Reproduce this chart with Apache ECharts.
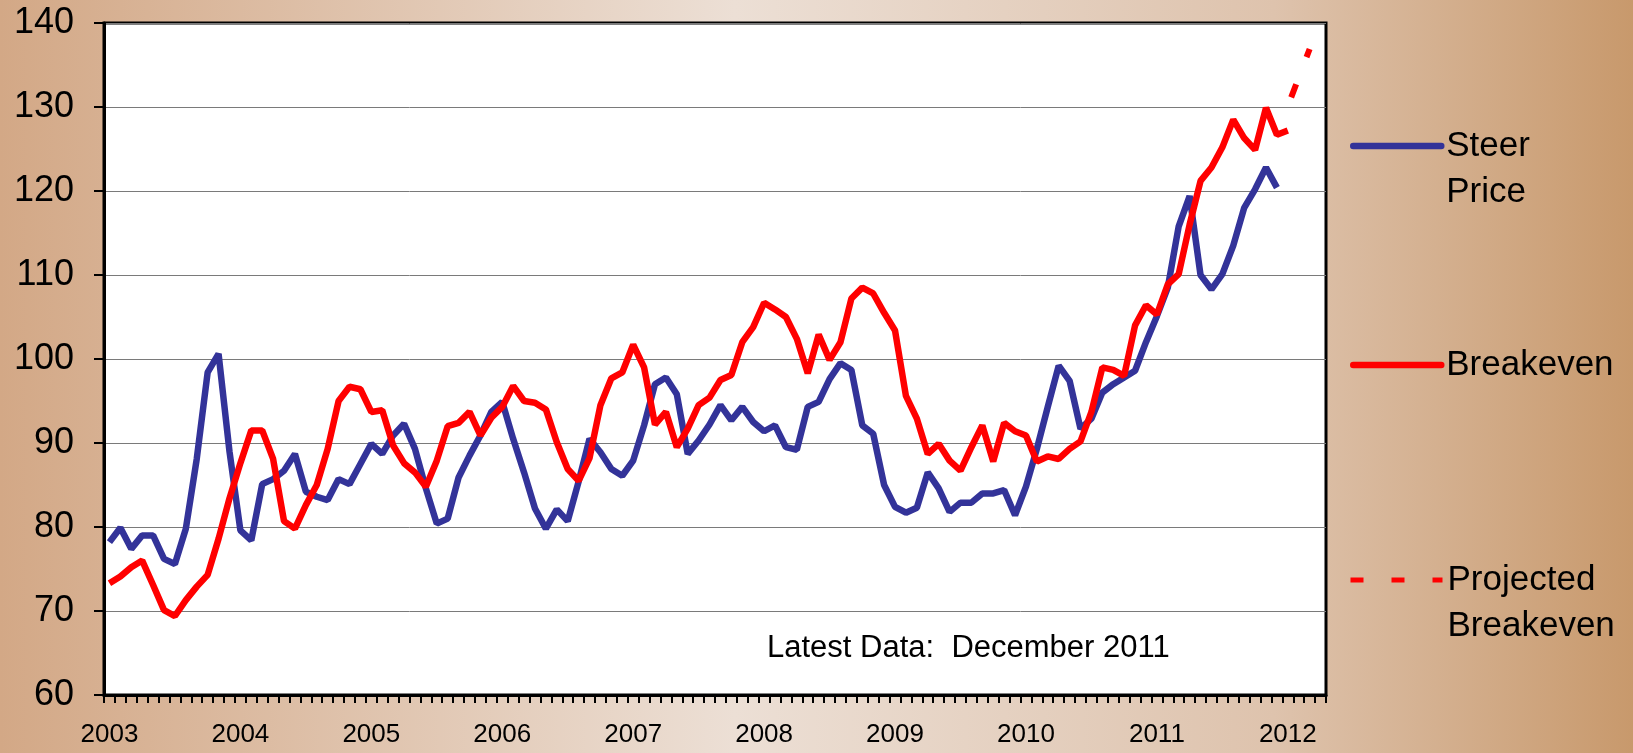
<!DOCTYPE html>
<html>
<head>
<meta charset="utf-8">
<title>Steer Price and Breakeven</title>
<script src="https://cdn.jsdelivr.net/npm/echarts@6/dist/echarts.min.js"></script>
<style>
  html, body { margin: 0; padding: 0; }
  #chart { width: 1633px; height: 753px; }
</style>
</head>
<body>
<div id="chart"></div>
<script>
// axis: monthly categories, Jan 2003 .. Apr 2012, labelled once a year
var years = [2003, 2004, 2005, 2006, 2007, 2008, 2009, 2010, 2011, 2012];
var monthCount = 112;
var yTicks = [60, 70, 80, 90, 100, 110, 120, 130, 140];

// monthly values from Jan 2003
var steerPrice = [
  78.2, 79.9, 77.4, 79.0, 79.0, 76.2, 75.6, 79.8, 88.1, 98.4, 100.6, 89.0,
  79.6, 78.4, 85.1, 85.7, 86.7, 88.7, 84.2, 83.6, 83.2, 85.7, 85.1, 87.5,
  89.9, 88.7, 90.9, 92.3, 89.3, 84.6, 80.4, 81.0, 85.9, 88.5, 90.9, 93.7,
  94.9, 90.5, 86.5, 82.2, 79.8, 82.1, 80.7, 85.4, 90.5, 88.9, 86.9, 86.1,
  87.9, 92.1, 97.0, 97.8, 95.8, 88.7, 90.3, 92.2, 94.5, 92.7, 94.3, 92.5,
  91.4, 92.1, 89.5, 89.2, 94.3, 94.9, 97.6, 99.5, 98.7, 92.1, 91.1, 85.0,
  82.4, 81.7, 82.3, 86.5, 84.6, 81.8, 82.9, 82.9, 84.0, 84.0, 84.4, 81.4,
  84.8, 89.3, 94.3, 99.2, 97.4, 91.7, 92.9, 96.0, 97.0, 97.8, 98.6, 102.0,
  105.1, 108.5, 115.8, 119.4, 110.0, 108.3, 110.1, 113.5, 118.0, 120.2, 122.8, 120.4
];
var breakeven = [
  73.3, 74.1, 75.2, 76.0, 73.1, 70.1, 69.4, 71.3, 72.9, 74.3, 78.6, 83.4,
  87.6, 91.5, 91.5, 88.1, 80.7, 79.8, 82.6, 85.0, 89.3, 95.0, 96.7, 96.4,
  93.7, 93.9, 89.7, 87.6, 86.5, 84.8, 87.9, 92.0, 92.4, 93.7, 90.9, 93.0,
  94.3, 96.8, 95.0, 94.8, 94.0, 90.1, 86.9, 85.5, 88.2, 94.5, 97.7, 98.4,
  101.7, 99.0, 92.2, 93.7, 89.5, 91.7, 94.5, 95.4, 97.5, 98.1, 102.0, 103.8,
  106.7, 105.9, 105.0, 102.4, 98.3, 102.9, 99.9, 102.0, 107.2, 108.5, 107.8, 105.5,
  103.4, 95.6, 92.9, 88.7, 89.9, 87.9, 86.7, 89.5, 92.1, 87.8, 92.4, 91.4,
  90.9, 87.8, 88.4, 88.1, 89.3, 90.2, 93.7, 99.0, 98.7, 98.0, 104.0, 106.4,
  105.3, 108.9, 110.1, 116.0, 121.2, 122.8, 125.2, 128.5, 126.3, 124.9, 129.9, 126.7,
  127.2
];
// projection starts at Dec 2011 (month index 107)
var projectedStart = 107;
var projectedValues = [126.7, 130.1, 133.5, 136.9];

var latestNote = "Latest Data:  December 2011";
var fontName = "'Liberation Sans', Arial, sans-serif";

function buildCategories(){
    var out = [];
    for (var i = 0; i < years.length; i++) {
        for (var m = 1; m <= 12; m++) {
            if (out.length < monthCount) {
                out.push(years[i] + "-" + (m < 10 ? "0" + m : m));
            }
        }
    }
    return out;
}

function buildProjected(){
    var out = [];
    for (var i = 0; i < projectedStart; i++) out.push(null);
    for (var j = 0; j < projectedValues.length; j++) out.push(projectedValues[j]);
    return out;
}

var categories = buildCategories();

var chart = echarts.init(document.getElementById("chart"));

var legendText = {
    color: "#000",
    fontSize: 35,
    fontFamily: fontName,
    lineHeight: 46
};
// legend hides the little symbol ECharts puts on line icons
var noSymbol = {color: "rgba(0,0,0,0)", borderWidth: 0, opacity: 0};

var option = {
    animation: false,
    backgroundColor: new echarts.graphic.LinearGradient(0, 0, 1, 0, [
        {offset: 0, color: "#d3a886"},
        {offset: 0.45, color: "#ecdfd5"},
        {offset: 0.78, color: "#dec3ad"},
        {offset: 1, color: "#c8996c"}
    ]),
    title: {
        text: latestNote,
        left: 767,
        top: 633,
        padding: 0,
        textStyle: {fontSize: 31, fontWeight: "normal", color: "#000", fontFamily: fontName}
    },
    grid: {
        left: 104, right: 307, top: 23, bottom: 58,
        show: true,
        backgroundColor: "#fff",
        borderColor: "#000",
        borderWidth: 3
    },
    legend: [
        {
            data: ["Steer Price"],
            // blank first line so the icon sits beside "Steer"
            left: 1350, top: 146 - 69,
            padding: 0,
            selectedMode: false,
            itemWidth: 88, itemHeight: 14,
            itemStyle: noSymbol,
            lineStyle: {width: 6.5, cap: "round"},
            formatter: function(){ return " \nSteer\nPrice"; },
            textStyle: legendText
        },
        {
            data: ["Breakeven"],
            left: 1350, top: 365 - 23,
            padding: 0,
            selectedMode: false,
            itemWidth: 88, itemHeight: 14,
            itemStyle: noSymbol,
            lineStyle: {width: 6.5, cap: "round"},
            textStyle: legendText
        },
        {
            data: ["Projected Breakeven"],
            left: 1348, top: 580 - 69,
            padding: 0,
            selectedMode: false,
            itemWidth: 92, itemHeight: 14,
            itemStyle: noSymbol,
            lineStyle: {width: 5, type: [13, 28], cap: "butt"},
            formatter: function(){ return " \nProjected\nBreakeven"; },
            textStyle: legendText
        }
    ],
    xAxis: {
        type: "category",
        data: categories,
        boundaryGap: true,
        axisLine: {lineStyle: {color: "#000", width: 3}},
        axisTick: {show: true, interval: 0, length: 8, lineStyle: {color: "#000", width: 2}},
        axisLabel: {
            interval: 11,
            margin: 27,
            fontSize: 26,
            color: "#000",
            fontFamily: fontName,
            formatter: function(v){ return v.slice(0, 4); }
        },
        splitLine: {show: false}
    },
    yAxis: {
        type: "value",
        min: yTicks[0],
        max: yTicks[yTicks.length - 1],
        interval: 10,
        axisLine: {show: true, lineStyle: {color: "#000", width: 3}},
        axisTick: {show: true, length: 10, lineStyle: {color: "#000", width: 2}},
        axisLabel: {margin: 30, fontSize: 36, color: "#000", fontFamily: fontName},
        splitLine: {lineStyle: {color: "#7a7a7a", width: 1}}
    },
    series: [
        {
            name: "Steer Price",
            type: "line",
            data: steerPrice,
            symbol: "none",
            lineStyle: {color: "#333399", width: 6.5},
            itemStyle: {color: "#333399"}
        },
        {
            name: "Breakeven",
            type: "line",
            data: breakeven,
            symbol: "none",
            lineStyle: {color: "#ff0000", width: 6.5},
            itemStyle: {color: "#ff0000"}
        },
        {
            name: "Projected Breakeven",
            type: "line",
            data: buildProjected(),
            symbol: "none",
            // first dash falls in a gap, like the original
            lineStyle: {color: "#ff0000", width: 6, type: [0, 40, 14, 29, 14, 100], cap: "butt"},
            itemStyle: {color: "#ff0000"}
        }
    ]
};

chart.setOption(option);
</script>
</body>
</html>
